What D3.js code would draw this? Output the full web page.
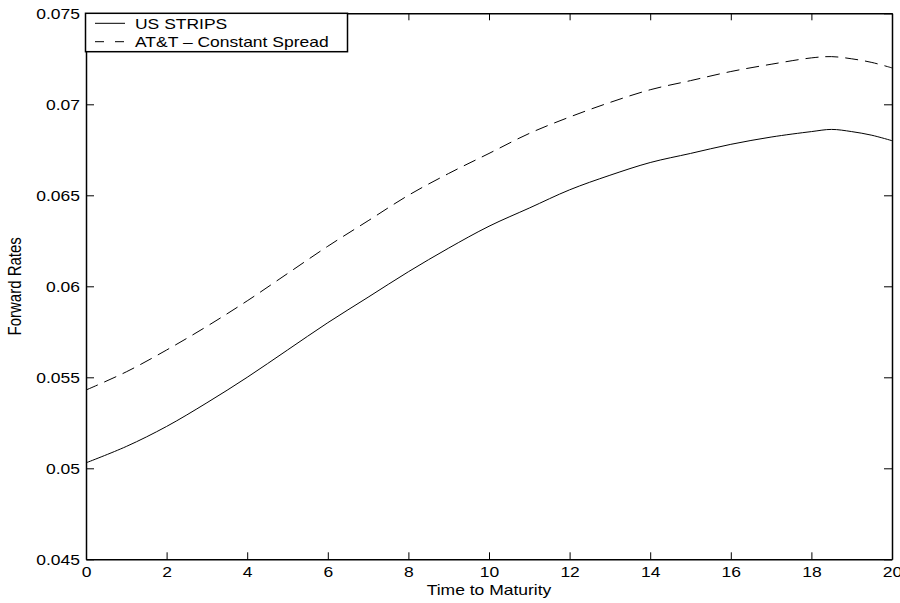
<!DOCTYPE html>
<html>
<head>
<meta charset="utf-8">
<script src="https://cdn.jsdelivr.net/npm/d3@7"></script>
<style>
  html, body { margin: 0; padding: 0; background: #fff; }
  svg { display: block; font-family: "Liberation Sans", Arial, Helvetica, sans-serif; }
</style>
</head>
<body>
<main></main>
<script>
// values
const maturity = [0, 1, 2, 3, 4, 5, 6, 7, 8, 9, 10, 11, 12, 13, 14, 15, 16, 17, 18, 18.5, 19, 19.5, 20];
const usStrips = [0.0503, 0.0512, 0.0523, 0.0536, 0.0550, 0.0565, 0.0580, 0.0594, 0.0608, 0.0621, 0.0633,
  0.0643, 0.0653, 0.0661, 0.0668, 0.0673, 0.0678, 0.0682, 0.0685, 0.06862, 0.0685, 0.0683, 0.0680];
const attSpread = [0.0543, 0.0553, 0.0565, 0.0578, 0.0592, 0.0607, 0.0622, 0.0636, 0.0650, 0.0662, 0.0673,
  0.0684, 0.0693, 0.0701, 0.0708, 0.0713, 0.0718, 0.0722, 0.07255, 0.07262, 0.0725, 0.0723, 0.0720];
const seriesNames = ["US STRIPS", "AT&T \u2013 Constant Spread"];
const xTicks = [0, 2, 4, 6, 8, 10, 12, 14, 16, 18, 20];
const yTicks = [0.045, 0.05, 0.055, 0.06, 0.065, 0.07, 0.075];

const width = 900;
const height = 603;
const MARGIN = { top: 13.3, right: 8, bottom: 43.7, left: 86 };
const STRETCH = "scale(1.25,1)"; // the reference glyphs are drawn wide

const root = document.querySelector("main");
const svg = d3.select(root).append("svg").attr("width", width).attr("height", height);

const x = d3.scaleLinear().domain([0, 20]).range([MARGIN.left, width - MARGIN.right]);
const y = d3.scaleLinear().domain([0.045, 0.075]).range([height - MARGIN.bottom, MARGIN.top]);

const fmt = (d) => String(+d.toFixed(3));

// lines
const line = d3.line()
  .x((d) => x(d[0]))
  .y((d) => y(d[1]))
  .curve(d3.curveCatmullRom.alpha(0.5));

const series = [
  { name: seriesNames[0], values: usStrips, dash: null },
  { name: seriesNames[1], values: attSpread, dash: "13,7" },
];

const lines = svg.append("g").attr("class", "lines");
series.forEach((s) => {
  lines.append("path")
    .datum(maturity.map((m, i) => [m, s.values[i]]))
    .attr("fill", "none")
    .attr("stroke", "#000")
    .attr("stroke-width", 1)
    .attr("stroke-dasharray", s.dash)
    .attr("d", line);
});

// axes box, ticks pointing inward
const styleAxis = (g) => {
  g.select(".domain").attr("stroke", "#000").attr("stroke-width", 1.5);
  g.selectAll(".tick line").attr("stroke", "#000").attr("stroke-width", 1);
  g.selectAll(".tick text")
    .attr("fill", "#000")
    .attr("font-size", 14)
    .attr("font-family", "Liberation Sans, Arial, Helvetica, sans-serif");
};

svg.append("g")
  .attr("transform", `translate(0,${height - MARGIN.bottom})`)
  .call(d3.axisBottom(x).tickValues(xTicks).tickSizeInner(-7).tickSizeOuter(0).tickPadding(8).tickFormat(fmt))
  .call(styleAxis)
  .call((g) => g.selectAll(".tick text").attr("transform", STRETCH));

svg.append("g")
  .attr("transform", `translate(0,${MARGIN.top})`)
  .call(d3.axisTop(x).tickValues(xTicks).tickSizeInner(-7).tickSizeOuter(0).tickFormat(""))
  .call(styleAxis);

svg.append("g")
  .attr("transform", `translate(${MARGIN.left},0)`)
  .call(d3.axisLeft(y).tickValues(yTicks).tickSizeInner(-8).tickSizeOuter(0).tickPadding(4.8).tickFormat(fmt))
  .call(styleAxis)
  .call((g) => g.selectAll(".tick text").attr("dy", "0.36em").attr("transform", STRETCH));

svg.append("g")
  .attr("transform", `translate(${width - MARGIN.right},0)`)
  .call(d3.axisRight(y).tickValues(yTicks).tickSizeInner(-8).tickSizeOuter(0).tickFormat(""))
  .call(styleAxis);

// axis titles
svg.append("text")
  .attr("transform", `translate(${(MARGIN.left + width - MARGIN.right) / 2},595) ${STRETCH}`)
  .attr("text-anchor", "middle")
  .attr("font-size", 14)
  .text("Time to Maturity");

svg.append("text")
  .attr("transform", `translate(21,${(MARGIN.top + height - MARGIN.bottom) / 2}) ${STRETCH} rotate(-90)`)
  .attr("text-anchor", "middle")
  .attr("font-size", 15)
  .text("Forward Rates");

// legend
const legend = svg.append("g").attr("class", "legend");
legend.append("rect")
  .attr("x", MARGIN.left - 0.5)
  .attr("y", MARGIN.top)
  .attr("width", 262)
  .attr("height", 38.4)
  .attr("fill", "#fff")
  .attr("stroke", "#000")
  .attr("stroke-width", 1.5);

const legendDash = [null, "9,11"];
series.forEach((s, i) => {
  const ly = 23.3 + i * 18.4;
  legend.append("line")
    .attr("x1", 95).attr("x2", 125)
    .attr("y1", ly).attr("y2", ly)
    .attr("stroke", "#000")
    .attr("stroke-width", 1)
    .attr("stroke-dasharray", legendDash[i]);
  legend.append("text")
    .attr("transform", `translate(135,${ly + 5.5}) ${STRETCH}`)
    .attr("font-size", 14)
    .text(s.name);
});
</script>
</body>
</html>
